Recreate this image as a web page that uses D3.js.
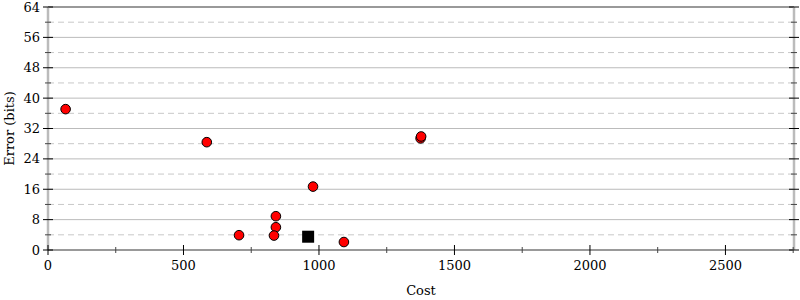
<!DOCTYPE html>
<html>
<head>
<meta charset="utf-8">
<script src="https://cdn.jsdelivr.net/npm/d3@7"></script>
<style>
  body { margin: 0; background: #fff; }
  svg { font-family: "DejaVu Serif", serif; }
</style>
</head>
<body>
<div class="chart"></div>
<script>
// Data.
const costs  = [65, 586, 1375, 1377, 978, 841, 841, 834, 705, 1092];
const errors = [37.1, 28.4, 29.4, 29.9, 16.7, 8.9, 6.0, 3.8, 3.9, 2.1];
const bestCost = [960];
const bestError = [3.5];
const xTicks = [0, 500, 1000, 1500, 2000, 2500];
const yTicks = [0, 8, 16, 24, 32, 40, 48, 56, 64];

const width = 800;
const height = 300;
const padLeft = 48, padRight = 794, padTop = 7, padBottom = 250;

const points = costs.map((c, i) => ({ cost: c, error: errors[i] }));
const best = bestCost.map((c, i) => ({ cost: c, error: bestError[i] }));

const xScale = d3.scaleLinear().domain([0, 2753]).range([padLeft, padRight]);
const yScale = d3.scaleLinear().domain([0, 64]).range([padBottom, padTop]);

const xMinor = d3.range(250, 2753, 500);
const yMinor = d3.range(4, 64, 8);

const svg = d3.select('.chart')
              .append('svg')
              .attr('width', width)
              .attr('height', height);

// Grid lines.
svg.append('g')
   .selectAll('line')
   .data(yTicks.slice(1, -1))
   .enter()
   .append('line')
   .attr('x1', padLeft).attr('x2', padRight)
   .attr('y1', d => yScale(d)).attr('y2', d => yScale(d))
   .attr('stroke', '#bbb')
   .attr('stroke-width', 1);

svg.append('g')
   .selectAll('line')
   .data(yMinor)
   .enter()
   .append('line')
   .attr('x1', padLeft).attr('x2', padRight)
   .attr('y1', d => yScale(d)).attr('y2', d => yScale(d))
   .attr('stroke', '#c8c8c8')
   .attr('stroke-width', 1)
   .attr('stroke-dasharray', '6,4');

// Frame.
svg.append('line')
   .attr('x1', padLeft).attr('x2', padRight)
   .attr('y1', yScale(64)).attr('y2', yScale(64))
   .attr('stroke', '#999').attr('stroke-width', 2);
svg.append('line')
   .attr('x1', padLeft).attr('x2', padLeft)
   .attr('y1', padTop).attr('y2', padBottom)
   .attr('stroke', '#bbb').attr('stroke-width', 2.5);
svg.append('line')
   .attr('x1', padRight).attr('x2', padRight)
   .attr('y1', padTop).attr('y2', padBottom)
   .attr('stroke', '#bbb').attr('stroke-width', 2.5);
svg.append('line')
   .attr('x1', padLeft).attr('x2', padRight)
   .attr('y1', padBottom).attr('y2', padBottom)
   .attr('stroke', '#999').attr('stroke-width', 2);

// Y axis ticks (left and right).
[padLeft, padRight].forEach(px => {
  svg.append('g')
     .selectAll('line')
     .data(yTicks)
     .enter()
     .append('line')
     .attr('x1', px - 5).attr('x2', px + 5)
     .attr('y1', d => yScale(d)).attr('y2', d => yScale(d))
     .attr('stroke', '#000').attr('stroke-width', 1);
  svg.append('g')
     .selectAll('line')
     .data(yMinor)
     .enter()
     .append('line')
     .attr('x1', px - 3).attr('x2', px + 3)
     .attr('y1', d => yScale(d)).attr('y2', d => yScale(d))
     .attr('stroke', '#444').attr('stroke-width', 1);
});

// X axis ticks.
svg.append('g')
   .selectAll('line')
   .data(xTicks)
   .enter()
   .append('line')
   .attr('x1', d => xScale(d)).attr('x2', d => xScale(d))
   .attr('y1', padBottom - 5).attr('y2', padBottom + 5)
   .attr('stroke', '#000').attr('stroke-width', 1);
svg.append('g')
   .selectAll('line')
   .data(xMinor)
   .enter()
   .append('line')
   .attr('x1', d => xScale(d)).attr('x2', d => xScale(d))
   .attr('y1', padBottom - 3).attr('y2', padBottom + 3)
   .attr('stroke', '#444').attr('stroke-width', 1);

// Tick labels.
svg.append('g')
   .selectAll('text')
   .data(yTicks)
   .enter()
   .append('text')
   .attr('x', padLeft - 8)
   .attr('y', d => yScale(d) + 4.5)
   .attr('text-anchor', 'end')
   .attr('font-size', '13px')
   .text(d => d);

svg.append('g')
   .selectAll('text')
   .data(xTicks)
   .enter()
   .append('text')
   .attr('x', d => xScale(d))
   .attr('y', padBottom + 20)
   .attr('text-anchor', 'middle')
   .attr('font-size', '13px')
   .text(d => d);

// Axis titles.
svg.append('text')
   .attr('x', (padLeft + padRight) / 2)
   .attr('y', 295)
   .attr('text-anchor', 'middle')
   .attr('font-size', '13px')
   .text('Cost');

svg.append('text')
   .attr('transform', 'translate(14,' + ((padTop + padBottom) / 2) + ') rotate(-90)')
   .attr('text-anchor', 'middle')
   .attr('font-size', '13px')
   .text('Error (bits)');

// Points.
svg.append('g')
   .selectAll('circle')
   .data(points)
   .enter()
   .append('circle')
   .attr('cx', d => xScale(d.cost))
   .attr('cy', d => yScale(d.error))
   .attr('r', 4.8)
   .attr('fill', '#f00')
   .attr('stroke', '#000')
   .attr('stroke-width', 1);

svg.append('g')
   .selectAll('rect')
   .data(best)
   .enter()
   .append('rect')
   .attr('x', d => xScale(d.cost) - 6)
   .attr('y', d => yScale(d.error) - 6)
   .attr('width', 12)
   .attr('height', 12)
   .attr('fill', '#000');
</script>
</body>
</html>
